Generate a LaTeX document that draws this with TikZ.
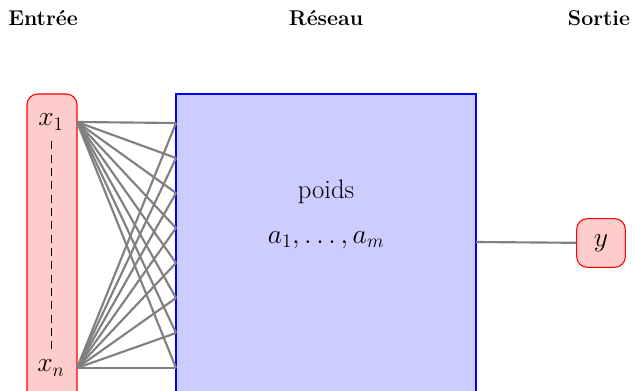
\documentclass[tikz,border=0pt]{standalone}
\usepackage{amsmath}
\usepackage{tikz}
\usetikzlibrary{positioning}

\begin{document}
\begin{tikzpicture}[x=0.75pt, y=-0.75pt, font=\fontsize{20}{24}\selectfont,
    title/.style={font=\fontsize{16}{19}\selectfont\bfseries},
    link/.style={gray, line width=1.6pt},
    outbox/.style={draw=red, fill=red!20, line width=0.8pt, rounded corners=8pt, minimum size=36.5pt}]
  \useasboundingbox (0,0) rectangle (635,391);
  \clip (0,0) rectangle (635,391);

  % Titles
  \node[title] (tin) at (43,18) {Entrée};
  \node[title] (tnet) at (326,18) {Réseau};
  \node[title] (tout) at (599,18) {Sortie};

  % Input box
  \draw[red, fill=red!20, line width=0.8pt, rounded corners=8pt] (27,94) rectangle (77,430);
  \node (x1) at (51,122) {$x_1$};
  \node (xn) at (51,368) {$x_n$};
  \draw[line width=0.7pt, dash pattern=on 6pt off 4pt, shorten <=5pt, shorten >=5pt] (x1) -- (xn);
  \coordinate (x1e) at (77,122);
  \coordinate (xne) at (77,368);

  % Network box
  \draw[blue, fill=blue!20, line width=0.8pt] (176,94) rectangle (476,430);
  \node (poids) at (326,192) {poids};
  \node (par) at (326,240) {$a_1,\dots,a_m$};
  \foreach \i in {0,...,7} \coordinate (w\i) at (176,{123+35*\i});

  % Connections from inputs
  \foreach \i in {0,...,7} {
    \draw[link] (x1e) -- (w\i);
    \draw[link] (xne) -- (w\i);
  }

  % Output
  \coordinate (ne) at (476,242);
  \node[outbox] (y) at (601,243) {$y$};
  \draw[link] (ne) -- (y);
\end{tikzpicture}
\end{document}
